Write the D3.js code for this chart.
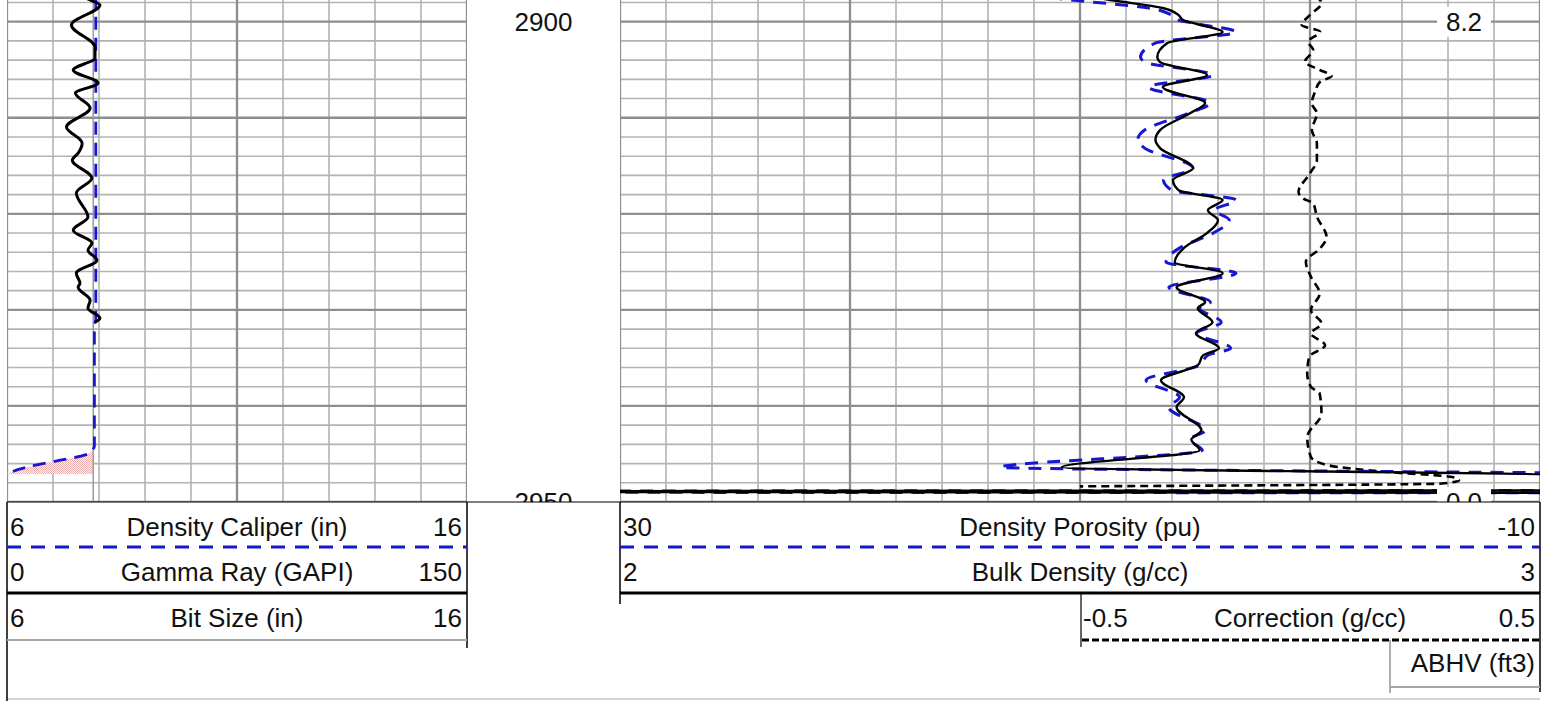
<!DOCTYPE html>
<html>
<head>
<meta charset="utf-8">
<script src="https://cdn.jsdelivr.net/npm/d3@7"></script>
<style>
  html, body { margin: 0; padding: 0; background: #fff; }
  svg { display: block; font-family: "Liberation Sans", Arial, sans-serif; }
</style>
</head>
<body>
<svg id="log" width="1554" height="701"></svg>
<script>
// ---- depth window (ft) ----
const depthTop = 2897.74;
const depthBase = 2950.0;
const depthLabels = [2900, 2950];

// ---- track 1: gamma ray, density caliper, bit size ----
const grDepth = [2897.5, 2897.74, 2898.26, 2900.34, 2902.64, 2903.78, 2905.03, 2906.39, 2907.43, 2908.99,
  2910.97, 2912.64, 2913.68, 2914.41, 2916.28, 2917.84, 2920.34, 2921.70, 2923.05, 2923.78,
  2924.82, 2926.18, 2927.22, 2927.64, 2928.99, 2929.82, 2930.86, 2931.28];
const grValue = [25.5, 27.1, 30.3, 21.0, 28.7, 28.7, 21.6, 29.7, 22.3, 27.1,
  19.4, 24.5, 23.2, 21.3, 27.7, 22.6, 26.4, 21.6, 27.7, 26.4,
  29.3, 22.6, 23.8, 23.2, 27.1, 26.4, 30.3, 28.7];

const calDepth = [2897.3, 2931.0, 2931.6, 2944.2, 2944.5, 2945.1, 2945.6, 2946.1, 2946.6, 2947.0, 2947.08];
const calValue = [7.93, 7.93, 7.90, 7.90, 7.87, 7.70, 7.22, 6.68, 6.25, 6.02, 5.95];

const bitSize = 7.875;

// ---- track 2: bulk density, density porosity, correction ----
const rhobDepth = [2897.2, 2897.74, 2898.57, 2899.30, 2899.82, 2900.24, 2901.07, 2902.22, 2903.68, 2904.20,
  2905.55, 2906.80, 2908.47, 2909.51, 2911.28, 2912.32, 2913.16, 2915.24, 2916.49, 2917.53,
  2918.57, 2919.62, 2920.66, 2922.01, 2923.47, 2925.03, 2926.18, 2927.64, 2929.20, 2929.82,
  2931.28, 2932.43, 2933.99, 2934.72, 2935.76, 2937.32, 2939.09, 2940.14, 2942.53, 2943.50,
  2944.62, 2946.39, 2947.22, 2948.78, 2948.88, 2948.95, 2949.05];
const rhobValue = [2.500, 2.533, 2.590, 2.607, 2.612, 2.627, 2.655, 2.595, 2.584, 2.587,
  2.638, 2.590, 2.636, 2.620, 2.587, 2.582, 2.587, 2.623, 2.601, 2.607,
  2.655, 2.639, 2.650, 2.638, 2.614, 2.603, 2.655, 2.605, 2.636, 2.628,
  2.644, 2.626, 2.651, 2.634, 2.628, 2.588, 2.613, 2.605, 2.632, 2.621,
  2.630, 2.480, 3.010, 3.010, 1.950, 1.950, 3.010];
const dphiValue = [12.28, 10.35, 7.02, 6.02, 5.73, 4.85, 3.22, 6.73, 7.37, 7.19,
  4.21, 7.02, 4.33, 5.26, 7.19, 7.49, 7.19, 5.09, 6.37, 6.02,
  3.22, 4.15, 3.51, 4.21, 5.61, 6.26, 3.22, 6.14, 4.33, 4.80,
  3.86, 4.91, 3.45, 4.44, 4.80, 7.13, 5.67, 6.14, 4.56, 5.21,
  4.68, 13.45, -17.54, -17.54, 44.44, 44.44, -17.54];

const corrDepth = [2897.3, 2898.08, 2899.30, 2900.34, 2901.04, 2902.08, 2902.95, 2904.17, 2905.03, 2905.66,
  2906.25, 2907.29, 2908.50, 2909.54, 2911.28, 2912.67, 2914.41, 2915.79, 2917.71, 2918.40,
  2918.92, 2920.31, 2922.40, 2923.60, 2925.00, 2926.56, 2928.29, 2930.03, 2931.42, 2932.46,
  2933.68, 2934.90, 2936.63, 2938.02, 2938.71, 2940.79, 2943.23, 2945.31, 2946.18, 2946.88,
  2947.40, 2947.74, 2948.08, 2948.37];
const corrValue = [0.012, 0.025, 0.000, -0.018, 0.022, -0.004, 0.007, -0.011, 0.022, 0.047,
  0.022, 0.011, 0.004, 0.015, 0.004, 0.015, 0.015, 0.000, -0.025, -0.015,
  0.007, 0.015, 0.036, 0.022, -0.009, 0.002, 0.021, 0.002, 0.025, 0.002,
  0.033, -0.002, -0.006, 0.002, 0.021, 0.025, -0.006, 0.002, 0.040, 0.171,
  0.309, 0.324, 0.286, -0.500];

// integrated borehole volume markers
const abhvDepth = [2900, 2950];
const abhvValue = [8.2, 0.0];

// ---- layout ----
const legendTop = 502;
const T1 = [7, 467], T2 = [620, 1540];
const BLUE = "#1717cf";
const FONT = 26;

const svg = d3.select("#log");
const y = d3.scaleLinear().domain([depthTop, depthBase]).range([0, legendTop]);

const xCal = d3.scaleLinear().domain([6, 16]).range(T1);
const xGR = d3.scaleLinear().domain([0, 150]).range(T1);
const xBit = d3.scaleLinear().domain([6, 16]).range(T1);
const xRhob = d3.scaleLinear().domain([2, 3]).range(T2);
const xDphi = d3.scaleLinear().domain([30, -10]).range(T2);
const xCorr = d3.scaleLinear().domain([-0.5, 0.5]).range([1080, T2[1]]);

const zip = (ds, vs) => ds.map((d, i) => ({ d, v: vs[i] }));

// ---- defs: clips and washout pattern ----
const defs = svg.append("defs");
defs.append("clipPath").attr("id", "clipT1").append("rect")
  .attr("x", T1[0]).attr("y", 0).attr("width", T1[1] - T1[0]).attr("height", legendTop);
defs.append("clipPath").attr("id", "clipT2").append("rect")
  .attr("x", T2[0]).attr("y", 0).attr("width", T2[1] - T2[0]).attr("height", legendTop);
const pat = defs.append("pattern").attr("id", "washout")
  .attr("width", 2).attr("height", 2).attr("patternUnits", "userSpaceOnUse");
pat.append("rect").attr("width", 2).attr("height", 2).attr("fill", "#fdf3f3");
pat.append("rect").attr("width", 1).attr("height", 1).attr("fill", "#eab0b0");
pat.append("rect").attr("x", 1).attr("y", 1).attr("width", 1).attr("height", 1).attr("fill", "#eab0b0");

// ---- grids ----
const gridDepths = d3.range(2898, 2951, 2);
function drawGrid(xs, vTicks, isMajorV, clipId) {
  const g = svg.append("g").attr("clip-path", `url(#${clipId})`);
  const [a, b] = xs.range();
  const hs = gridDepths.map(d => ({ d, major: d % 10 === 0 }))
    .sort((p, q) => p.major - q.major);
  const vs = vTicks.map(v => ({ v, major: isMajorV(v) }));
  g.selectAll("line.vmin").data(vs.filter(o => !o.major)).join("line")
    .attr("x1", o => xs(o.v)).attr("x2", o => xs(o.v))
    .attr("y1", 0).attr("y2", legendTop)
    .attr("stroke", "#b3b3b3").attr("stroke-width", 1.6);
  g.selectAll("line.h").data(hs).join("line")
    .attr("x1", a).attr("x2", b)
    .attr("y1", o => y(o.d)).attr("y2", o => y(o.d))
    .attr("stroke", o => o.major ? "#8e8e8e" : "#b3b3b3")
    .attr("stroke-width", o => o.major ? 2.3 : 1.6);
  g.selectAll("line.vmaj").data(vs.filter(o => o.major)).join("line")
    .attr("x1", o => xs(o.v)).attr("x2", o => xs(o.v))
    .attr("y1", 0).attr("y2", legendTop)
    .attr("stroke", "#8e8e8e").attr("stroke-width", 2.3);
}
drawGrid(xCal, xCal.ticks(10), v => Math.round(v - 6) % 5 === 0, "clipT1");
drawGrid(xRhob, xRhob.ticks(20), v => Math.round((v - 2) * 20) % 5 === 0, "clipT2");

// ---- track 1 curves ----
const t1 = svg.append("g").attr("clip-path", "url(#clipT1)");
const calData = zip(calDepth, calValue);

// washout shading where the caliper reads below bit size
t1.append("path")
  .datum(calData)
  .attr("fill", "url(#washout)")
  .attr("d", d3.area()
    .y(p => y(p.d))
    .x0(xCal(bitSize))
    .x1(p => xCal(Math.min(p.v, bitSize)))
    .curve(d3.curveMonotoneY));

t1.append("line")
  .attr("x1", xBit(bitSize)).attr("x2", xBit(bitSize))
  .attr("y1", 0).attr("y2", legendTop)
  .attr("stroke", "#9a9a9a").attr("stroke-width", 1.5);

t1.append("path")
  .datum(calData)
  .attr("fill", "none").attr("stroke", BLUE).attr("stroke-width", 2.8)
  .attr("stroke-dasharray", "13,8")
  .attr("d", d3.line().x(p => xCal(p.v)).y(p => y(p.d)).curve(d3.curveMonotoneY));

t1.append("path")
  .datum(zip(grDepth, grValue))
  .attr("fill", "none").attr("stroke", "#000").attr("stroke-width", 3)
  .attr("stroke-linejoin", "round")
  .attr("d", d3.line().x(p => xGR(p.v)).y(p => y(p.d)).curve(d3.curveMonotoneY));

// ---- track 2 curves ----
const t2 = svg.append("g").attr("clip-path", "url(#clipT2)");
t2.append("path")
  .datum(zip(corrDepth, corrValue))
  .attr("fill", "none").attr("stroke", "#000").attr("stroke-width", 2.6)
  .attr("stroke-dasharray", "8,5")
  .attr("d", d3.line().x(p => xCorr(p.v)).y(p => y(p.d)).curve(d3.curveMonotoneY));

t2.append("path")
  .datum(zip(rhobDepth, dphiValue))
  .attr("fill", "none").attr("stroke", BLUE).attr("stroke-width", 3)
  .attr("stroke-dasharray", "13,9")
  .attr("d", d3.line().x(p => xDphi(p.v)).y(p => y(p.d)).curve(d3.curveMonotoneY));

t2.append("path")
  .datum(zip(rhobDepth, rhobValue))
  .attr("fill", "none").attr("stroke", "#000").attr("stroke-width", 2.4)
  .attr("stroke-linejoin", "round")
  .attr("d", d3.line().x(p => xRhob(p.v)).y(p => y(p.d)).curve(d3.curveMonotoneY));

// ABHV markers
const abhvX = 1464;
const ab = svg.append("g").selectAll("g").data(zip(abhvDepth, abhvValue)).join("g");
ab.append("rect")
  .attr("x", abhvX - 27).attr("y", p => y(p.d) - 15)
  .attr("width", 54).attr("height", 30).attr("fill", "#fff");
ab.append("text")
  .attr("x", abhvX).attr("y", p => y(p.d)).attr("dy", "0.36em")
  .attr("text-anchor", "middle").attr("font-size", FONT).attr("fill", "#111")
  .text(p => d3.format(".1f")(p.v));

// depth labels
svg.append("g").selectAll("text").data(depthLabels).join("text")
  .attr("x", (T1[1] + T2[0]) / 2).attr("y", d => y(d)).attr("dy", "0.36em")
  .attr("text-anchor", "middle").attr("font-size", FONT).attr("fill", "#111")
  .text(d => d);

// ---- legend panel ----
const lg = svg.append("g");
lg.append("rect").attr("x", 0).attr("y", legendTop).attr("width", 1554).attr("height", 701 - legendTop).attr("fill", "#fff");

function hline(x1, x2, yy, stroke, w, dash) {
  const l = lg.append("line").attr("x1", x1).attr("x2", x2).attr("y1", yy).attr("y2", yy)
    .attr("stroke", stroke).attr("stroke-width", w);
  if (dash) l.attr("stroke-dasharray", dash);
  return l;
}
function vline(xx, y1, y2, stroke, w) {
  return lg.append("line").attr("x1", xx).attr("x2", xx).attr("y1", y1).attr("y2", y2)
    .attr("stroke", stroke).attr("stroke-width", w);
}
function label(x, yy, txt, anchor) {
  lg.append("text").attr("x", x).attr("y", yy).attr("text-anchor", anchor)
    .attr("font-size", FONT).attr("fill", "#111").text(txt);
}
function legendRow(x0, x1, base, scale, name) {
  const [lo, hi] = scale.domain();
  label(x0 + 3, base, String(lo), "start");
  label((x0 + x1) / 2, base, name, "middle");
  label(x1 - 5, base, String(hi), "end");
}

const rowBase = [536, 581, 627, 672];
const rowLine = [547, 593, 640, 687];

// outer frame
hline(T1[0], T2[1], 699, "#c4c4c4", 1.5);
vline(T1[0], legendTop, 701, "#000", 1.5);
hline(T1[0], T2[1], legendTop, "#000", 1.2);

// track 1 legend
vline(T1[1], legendTop, 648, "#000", 1.5);
legendRow(T1[0], T1[1], rowBase[0], xCal, "Density Caliper (in)");
hline(T1[0], T1[1], rowLine[0], BLUE, 3, "14,10");
legendRow(T1[0], T1[1], rowBase[1], xGR, "Gamma Ray (GAPI)");
hline(T1[0], T1[1], rowLine[1], "#000", 3);
legendRow(T1[0], T1[1], rowBase[2], xBit, "Bit Size (in)");
hline(T1[0], T1[1], rowLine[2], "#a6a6a6", 2);

// track 2 legend
vline(T2[0], legendTop, 604, "#000", 1.5);
vline(T2[1], legendTop, 692, "#000", 1.5);
legendRow(T2[0], T2[1], rowBase[0], xDphi, "Density Porosity (pu)");
hline(T2[0], T2[1], rowLine[0], BLUE, 3, "14,10");
legendRow(T2[0], T2[1], rowBase[1], xRhob, "Bulk Density (g/cc)");
hline(T2[0], T2[1], rowLine[1], "#000", 3);
vline(1081, rowLine[1], 647, "#000", 1.2);
legendRow(1080, T2[1], rowBase[2], xCorr, "Correction (g/cc)");
hline(1082, T2[1], rowLine[2], "#000", 3, "7,3");
vline(1390, rowLine[2], 693, "#777", 1.2);
label(T2[1] - 5, rowBase[3], "ABHV (ft3)", "end");
hline(1390, T2[1], rowLine[3], "#a6a6a6", 2);
</script>
</body>
</html>
